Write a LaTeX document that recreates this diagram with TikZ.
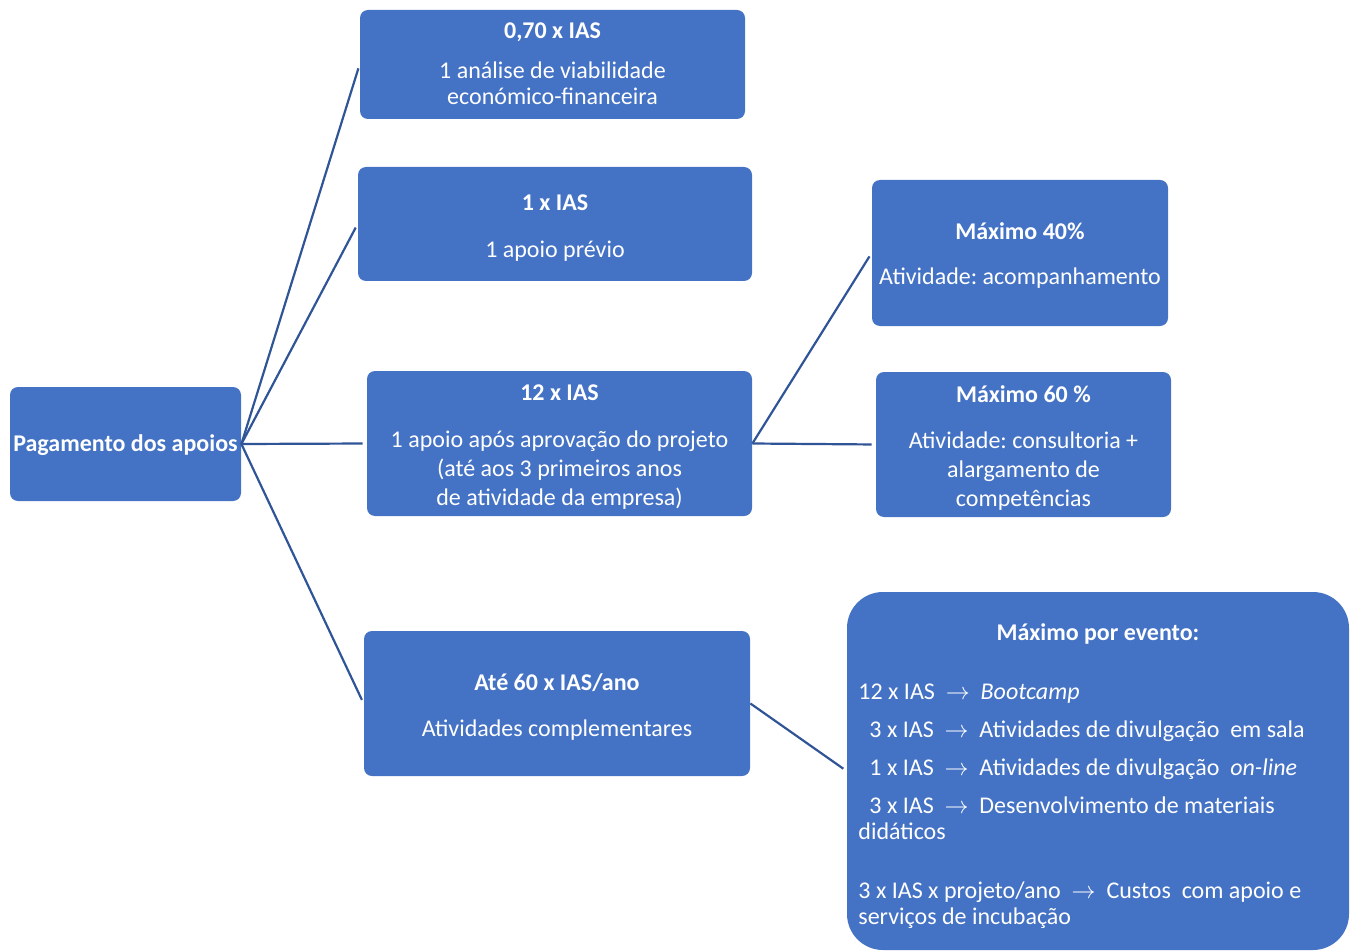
\documentclass[tikz,border=0pt]{standalone}
\usepackage{fontspec}
\setmainfont{Carlito}
\frenchspacing
\definecolor{boxblue}{HTML}{4472C4}
\definecolor{lineblue}{HTML}{2F5597}
\begin{document}
\frenchspacing
\begin{tikzpicture}[x=0.5pt,y=-0.5pt,
  box/.style={draw=none, fill=boxblue, rounded corners=4pt, inner sep=0pt},
  ln/.style={draw=lineblue, line width=1.1pt, shorten >=2pt},
  txt/.style={text=white, font=\fontsize{12}{14.5}\selectfont, inner sep=0pt, anchor=base},
  ttl/.style={txt, font=\fontsize{12}{14.5}\selectfont\bfseries},
  ltxt/.style={txt, anchor=base west}]
\useasboundingbox (0,0) rectangle (1354,952);

% boxes
\node[box, minimum width=115.5pt, minimum height=57pt] (root) at (125.5,444) {};
\node[box, minimum width=192.5pt, minimum height=54.5pt] (b1) at (552.5,64.5) {};
\node[box, minimum width=197pt, minimum height=57pt] (b2) at (555,224) {};
\node[box, minimum width=192.5pt, minimum height=72.5pt] (b3) at (559.5,443.5) {};
\node[box, minimum width=193pt, minimum height=72.5pt] (b4) at (557,703.5) {};
\node[box, minimum width=148pt, minimum height=73pt] (c1) at (1020,253) {};
\node[box, minimum width=147.5pt, minimum height=72.5pt] (c2) at (1023.5,444.5) {};
\node[box, rounded corners=18pt, minimum width=251pt, minimum height=179pt] (d) at (1098,771) {};

% connectors
\draw[ln] (root.east) -- (b1.west);
\draw[ln] (root.east) -- (b2.west);
\draw[ln] (root.east) -- (b3.west);
\draw[ln] (root.east) -- (b4.west);
\draw[ln] (b3.east) -- (c1.west);
\draw[ln] (b3.east) -- (c2.west);
\draw[ln] (b4.east) -- (d.west);

% texts
\node[ttl] (troot) at (125.5,451) {Pagamento dos apoios};

\node[ttl] (tb1) at (552.5,39) {0,70 x IAS};
\node[txt] (tb1a) at (552.5,79) {1 análise de viabilidade};
\node[txt] (tb1b) at (552.5,105) {económico-financeira};

\node[ttl] (tb2) at (555,211) {1 x IAS};
\node[txt] (tb2a) at (555,257) {1 apoio prévio};

\node[ttl] (tb3) at (559.5,400) {12 x IAS};
\node[txt] (tb3a) at (559.5,447) {1 apoio após aprovação do projeto};
\node[txt] (tb3b) at (559.5,476) {(até aos 3 primeiros anos};
\node[txt] (tb3c) at (559.5,505) {de atividade da empresa)};

\node[ttl] (tb4) at (557,690) {Até 60 x IAS/ano};
\node[txt] (tb4a) at (557,736) {Atividades complementares};

\node[ttl] (tc1) at (1020,240) {Máximo 40\%};
\node[txt] (tc1a) at (1020,285) {Atividade: acompanhamento};

\node[ttl] (tc2) at (1023.5,402) {Máximo 60 \%};
\node[txt] (tc2a) at (1023.5,448) {Atividade: consultoria +};
\node[txt] (tc2b) at (1023.5,477) {alargamento de};
\node[txt] (tc2c) at (1023.5,506) {competências};

\node[ttl] (td) at (1098,640) {Máximo por evento:};
\node[ltxt] (td1) at (858,699) {12 x IAS\ \ $\rightarrow$\ \ \textit{Bootcamp}};
\node[ltxt] (td2) at (869,737) {3 x IAS\ \ $\rightarrow$\ \ Atividades de divulgação\ \ em sala};
\node[ltxt] (td3) at (869,775) {1 x IAS\ \ $\rightarrow$\ \ Atividades de divulgação\ \ \textit{on-line}};
\node[ltxt] (td4) at (869,813) {3 x IAS\ \ $\rightarrow$\ \ Desenvolvimento de materiais};
\node[ltxt] (td4b) at (858,839) {didáticos};
\node[ltxt] (td5) at (858,898) {3 x IAS x projeto/ano\ \ $\rightarrow$\ \ Custos\ \ com apoio e};
\node[ltxt] (td5b) at (858,924) {serviços de incubação};
\end{tikzpicture}
\end{document}
